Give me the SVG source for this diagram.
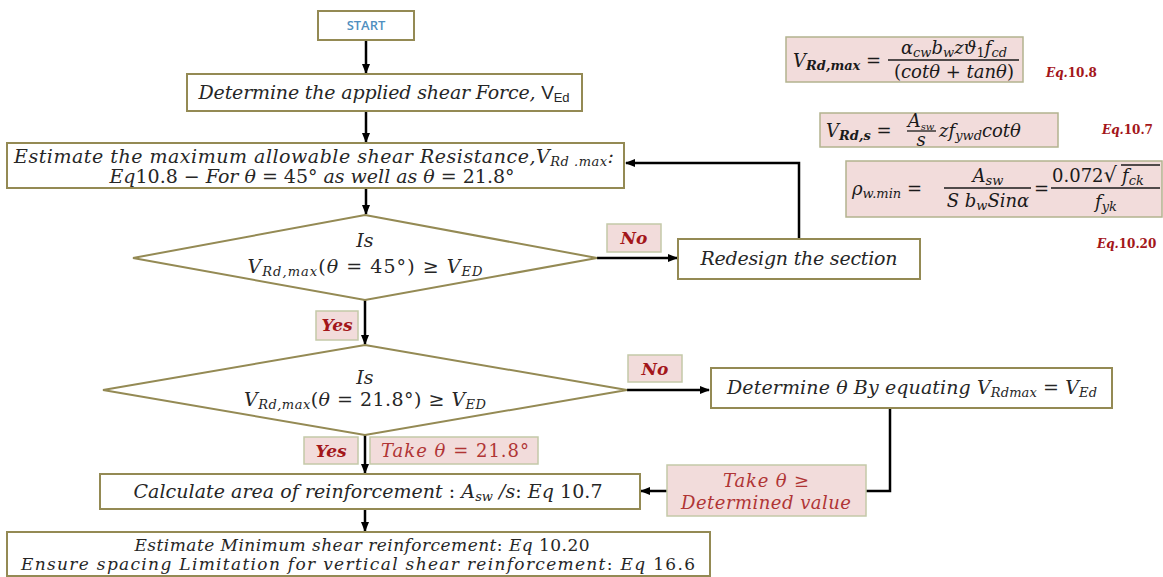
<svg xmlns="http://www.w3.org/2000/svg" width="1163" height="577" viewBox="0 0 1163 577">
<defs>
<marker id="ah" markerUnits="userSpaceOnUse" markerWidth="10" markerHeight="8" refX="9" refY="4" orient="auto">
<path d="M0,0 L10,4 L0,8 z" fill="#000"/>
</marker>
<style>
.box{fill:#fff;stroke:#948a54;stroke-width:2}
.dia{fill:#fff;stroke:#948a54;stroke-width:2}
.lbl{fill:#f2dcdb;stroke:#c4c9a8;stroke-width:1.5}
.eqbox{fill:#f2dcdb;stroke:#b3b38f;stroke-width:1.5}
.t{font-family:"DejaVu Serif",serif;font-style:italic;font-size:19px;fill:#262626}
.s17{font-size:17px}
.m{font-family:"DejaVu Serif",serif;font-style:italic;font-size:18px;fill:#1a1a1a}
.up{font-style:normal}
.sub{font-size:13px}
.yn{font-family:"DejaVu Serif",serif;font-style:italic;font-weight:bold;font-size:17px;fill:#a3161a}
.rt{font-family:"DejaVu Serif",serif;font-style:italic;font-size:18px;fill:#b03535}
.eqn{font-family:"DejaVu Serif",serif;font-style:italic;font-weight:bold;font-size:12px;fill:#a3161a}
.conn{stroke:#000;stroke-width:2.5;fill:none;marker-end:url(#ah)}
.frac{stroke:#1a1a1a;stroke-width:1.3}
</style>
</defs>

<g id="connectors">
<path class="conn" d="M366,40 V73"/>
<path class="conn" d="M366,111 V142"/>
<path class="conn" d="M366,188 V214"/>
<path class="conn" d="M597,258 H677"/>
<path class="conn" d="M799,239 V163 H626"/>
<path class="conn" d="M365,300 V344"/>
<path class="conn" d="M627,390 H709"/>
<path class="conn" d="M365,435 V473"/>
<path class="conn" d="M890,408 V491 H641"/>
<path class="conn" d="M365,509 V531"/>
</g>

<g id="start">
<rect class="box" x="318" y="11" width="96" height="29"/>
<text x="366" y="30" text-anchor="middle" font-family="Open Sans, sans-serif" font-size="13" font-weight="600" fill="#4f8fc0">START</text>
</g>

<g id="applied">
<rect class="box" x="187" y="74" width="395" height="37"/>
<text class="t" x="384" y="99" text-anchor="middle" textLength="371" lengthAdjust="spacing">Determine the applied shear Force, <tspan class="up" font-family="Liberation Sans, sans-serif">V</tspan><tspan class="up sub" font-family="Liberation Sans, sans-serif" dy="3">Ed</tspan></text>
</g>

<g id="estimate-max">
<rect class="box" x="7" y="143" width="617" height="45"/>
<text class="t" x="314" y="163" text-anchor="middle" textLength="600" lengthAdjust="spacing">Estimate the maximum allowable shear Resistance,V<tspan class="sub" dy="3">Rd .max</tspan><tspan dy="-3">:</tspan></text>
<text class="t" x="312" y="183" text-anchor="middle" textLength="405" lengthAdjust="spacing">Eq<tspan class="up">10.8</tspan>  − For θ <tspan class="up">= 45°</tspan> as well as θ <tspan class="up">= 21.8°</tspan></text>
</g>

<g id="decision1">
<polygon class="dia" points="365,215 597,258 365,300 133,258"/>
<text class="t" x="365" y="247" text-anchor="middle">Is</text>
<text class="t" x="365" y="273" text-anchor="middle" textLength="235" lengthAdjust="spacing">V<tspan class="sub" dy="3">Rd,max</tspan><tspan class="up" dy="-3">(</tspan>θ<tspan class="up"> = 45°) ≥ </tspan>V<tspan class="sub" dy="3">ED</tspan></text>
</g>

<g id="no1">
<rect class="lbl" x="607" y="224" width="54" height="28"/>
<text class="yn" x="634" y="244" text-anchor="middle">No</text>
</g>

<g id="redesign">
<rect class="box" x="678" y="239" width="242" height="40"/>
<text class="t" x="799" y="265" text-anchor="middle" textLength="197" lengthAdjust="spacing">Redesign the section</text>
</g>

<g id="yes1">
<rect class="lbl" x="316" y="311" width="42" height="29"/>
<text class="yn" x="337" y="331" text-anchor="middle">Yes</text>
</g>

<g id="decision2">
<polygon class="dia" points="365,345 627,390 365,435 103,390"/>
<text class="t" x="365" y="384" text-anchor="middle">Is</text>
<text class="t" x="365" y="406" text-anchor="middle" textLength="242" lengthAdjust="spacing">V<tspan class="sub" dy="3">Rd,max</tspan><tspan class="up" dy="-3">(</tspan>θ<tspan class="up"> = 21.8°) ≥ </tspan>V<tspan class="sub" dy="3">ED</tspan></text>
</g>

<g id="no2">
<rect class="lbl" x="628" y="355" width="54" height="27"/>
<text class="yn" x="655" y="375" text-anchor="middle">No</text>
</g>

<g id="determine-theta">
<rect class="box" x="711" y="368" width="401" height="40"/>
<text class="t" x="912" y="394" text-anchor="middle" textLength="370" lengthAdjust="spacing">Determine θ By equating V<tspan class="sub" dy="3">Rdmax</tspan><tspan class="up" dy="-3"> = </tspan>V<tspan class="sub" dy="3">Ed</tspan></text>
</g>

<g id="yes2">
<rect class="lbl" x="304" y="437" width="54" height="27"/>
<text class="yn" x="331" y="457" text-anchor="middle">Yes</text>
</g>

<g id="take-21">
<rect class="lbl" x="370" y="437" width="168" height="27"/>
<text class="rt" x="455" y="457" text-anchor="middle" textLength="148" lengthAdjust="spacing">Take  θ <tspan class="up">= 21.8°</tspan></text>
</g>

<g id="take-det">
<rect class="lbl" x="667" y="465" width="199" height="51"/>
<text class="rt" x="766" y="487" text-anchor="middle" textLength="86" lengthAdjust="spacing">Take θ <tspan class="up">≥</tspan></text>
<text class="rt" x="766" y="509" text-anchor="middle" textLength="170" lengthAdjust="spacing">Determined value</text>
</g>

<g id="calculate">
<rect class="box" x="100" y="474" width="540" height="35"/>
<text class="t" x="368" y="498" text-anchor="middle" textLength="469" lengthAdjust="spacing">Calculate area of reinforcement <tspan class="up">:</tspan>  A<tspan class="sub" dy="3">sw</tspan><tspan dy="-3"> /s</tspan><tspan class="up">:</tspan> Eq <tspan class="up">10.7</tspan></text>
</g>

<g id="estimate-min">
<rect class="box" x="7" y="532" width="703" height="44"/>
<text class="t s17" x="362" y="551" text-anchor="middle" textLength="455" lengthAdjust="spacing">Estimate Minimum shear reinforcement<tspan class="up">:</tspan> Eq <tspan class="up">10.20</tspan></text>
<text class="t s17" x="358" y="570" text-anchor="middle" textLength="674" lengthAdjust="spacing">Ensure spacing Limitation for vertical shear reinforcement<tspan class="up">:</tspan> Eq <tspan class="up">16.6</tspan></text>
</g>

<g id="eq-10-8">
<rect class="eqbox" x="786" y="37" width="237" height="45"/>
<text class="m" x="793" y="67">V<tspan class="sub" dy="3" font-weight="bold">Rd,max</tspan><tspan class="up" dy="-3"> =</tspan></text>
<text class="m" x="954" y="54" text-anchor="middle">α<tspan class="sub" dy="3">cw</tspan><tspan dy="-3">b</tspan><tspan class="sub" dy="3">w</tspan><tspan dy="-3">zϑ</tspan><tspan class="sub up" dy="3">1</tspan><tspan dy="-3">f</tspan><tspan class="sub" dy="3">cd</tspan></text>
<line class="frac" x1="888" y1="60" x2="1019" y2="60"/>
<text class="m" x="954" y="78" text-anchor="middle"><tspan class="up">(</tspan>cotθ <tspan class="up">+</tspan> tanθ<tspan class="up">)</tspan></text>
<text class="eqn" x="1046" y="77">Eq.<tspan class="up">10.8</tspan></text>
</g>

<g id="eq-10-7">
<rect class="eqbox" x="820" y="113" width="238" height="34"/>
<text class="m" x="826" y="137">V<tspan class="sub" dy="3" font-weight="bold">Rd,s</tspan><tspan class="up" dy="-3"> =</tspan></text>
<text class="m" x="921" y="127" text-anchor="middle" font-size="14">A<tspan font-size="10" dy="3">sw</tspan></text>
<line class="frac" x1="907" y1="131" x2="936" y2="131"/>
<text class="m" x="921" y="146" text-anchor="middle" font-size="14">s</text>
<text class="m" x="939" y="137">zf<tspan class="sub" dy="3">ywd</tspan><tspan dy="-3">cotθ</tspan></text>
<text class="eqn" x="1102" y="134">Eq.<tspan class="up">10.7</tspan></text>
</g>

<g id="eq-10-20">
<rect class="eqbox" x="846" y="161" width="316" height="56"/>
<text class="m" x="852" y="195">ρ<tspan class="sub" dy="3">w.min</tspan><tspan class="up" dy="-3"> =</tspan></text>
<text class="m" x="988" y="182" text-anchor="middle">A<tspan class="sub" dy="3">sw</tspan></text>
<line class="frac" x1="944" y1="188" x2="1031" y2="188"/>
<text class="m" x="988" y="207" text-anchor="middle">S b<tspan class="sub" dy="3">w</tspan><tspan dy="-3">Sinα</tspan></text>
<text class="m up" x="1034" y="195">=</text>
<text class="m" x="1052" y="182"><tspan class="up">0.072</tspan><tspan class="up" font-size="21">√</tspan></text>
<line class="frac" x1="1121" y1="165" x2="1160" y2="165"/>
<text class="m" x="1122" y="182">f<tspan class="sub" dy="3">ck</tspan></text>
<line class="frac" x1="1051" y1="188" x2="1160" y2="188"/>
<text class="m" x="1106" y="208" text-anchor="middle">f<tspan class="sub" dy="3">yk</tspan></text>
<text class="eqn" x="1097" y="248">Eq.<tspan class="up">10.20</tspan></text>
</g>
</svg>
